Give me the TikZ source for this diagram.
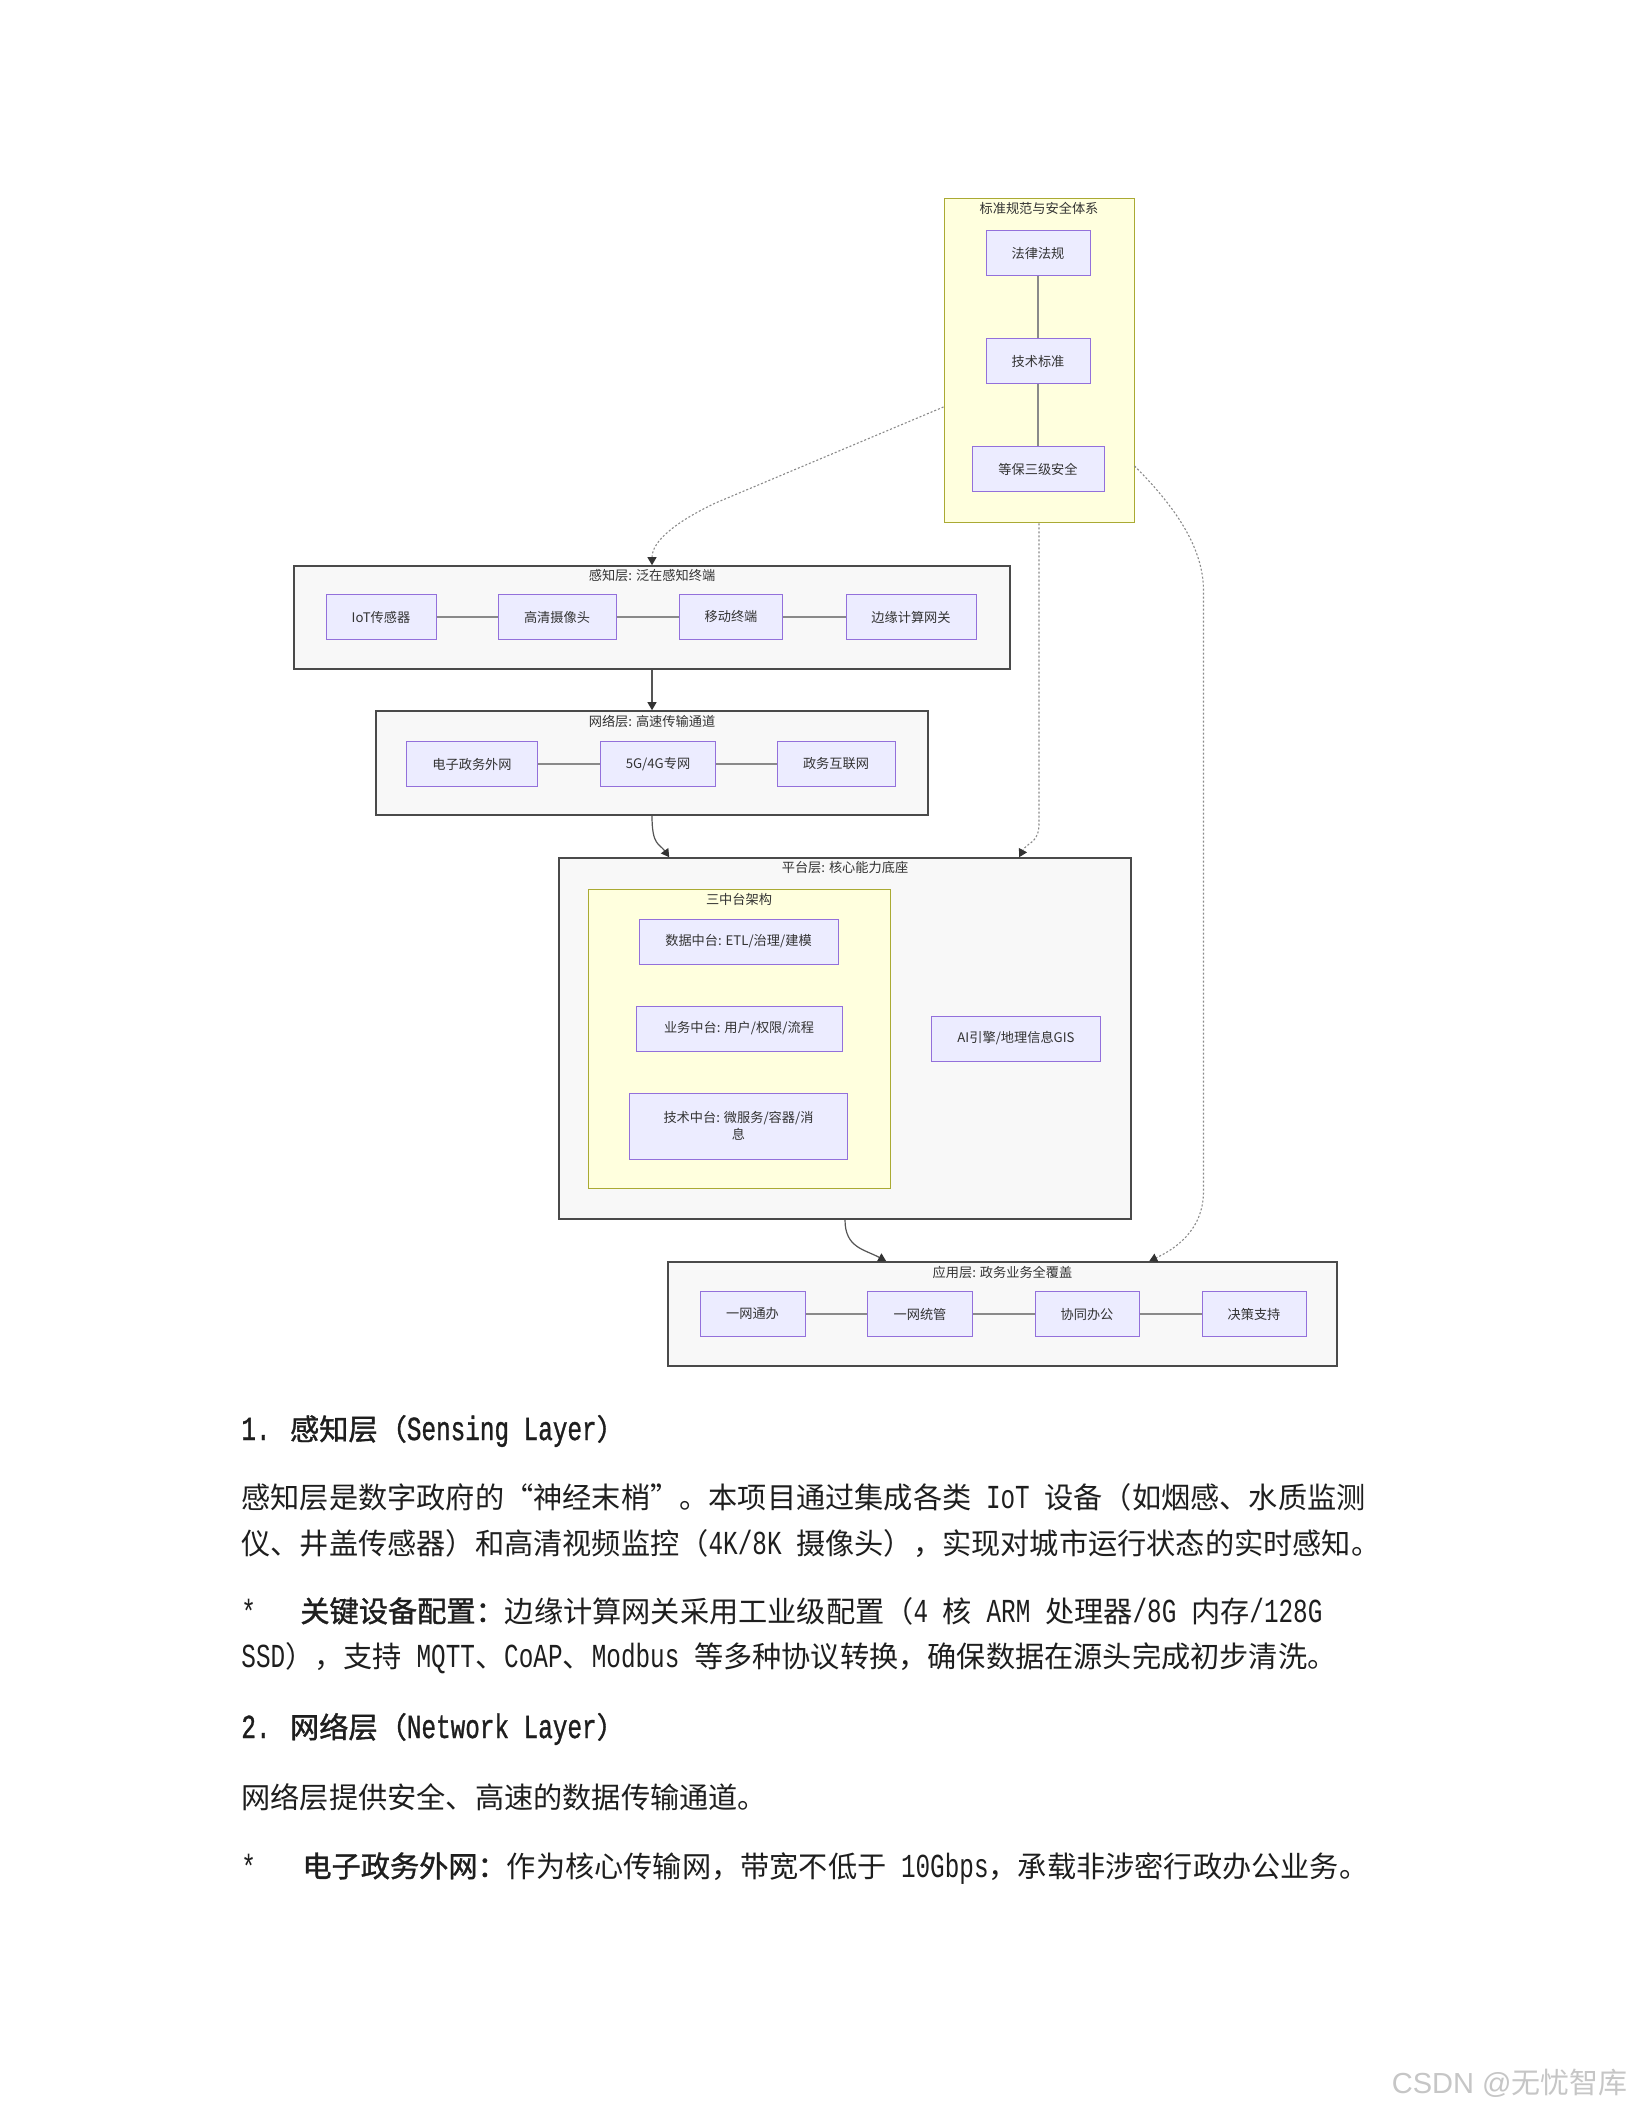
\documentclass[tikz,border=0pt]{standalone}
\usepackage{fontspec}
\usepackage{graphicx}
\setmainfont{Noto Sans CJK SC}
\newfontfamily\hdf{Noto Sans CJK SC}[RawFeature={embolden=1.2}]
\newfontfamily\ltf{Liberation Mono}[Scale=1.15]
\newfontfamily\lthf{Liberation Mono}[Scale=1.15,RawFeature={embolden=1.2}]
\newfontfamily\wmf{Liberation Sans}
\usetikzlibrary{arrows.meta,calc}
\definecolor{nodefill}{HTML}{ECECFF}
\definecolor{nodedraw}{HTML}{9370DB}
\definecolor{yelfill}{HTML}{FFFFDE}
\definecolor{yeldraw}{HTML}{AAAA33}
\definecolor{layfill}{HTML}{F8F8F8}
\definecolor{laydraw}{HTML}{4A4A4A}
\definecolor{labc}{HTML}{333333}
\definecolor{linec}{HTML}{8A8A8A}
\definecolor{arrc}{HTML}{555555}
\definecolor{tipc}{HTML}{333333}
\definecolor{bodyc}{HTML}{1E1E1E}
\definecolor{wmc}{HTML}{C6C6C6}
\newcommand\lt[1]{\scalebox{0.7246}[1]{\ltf #1}}
\newcommand\lth[1]{\scalebox{0.7246}[1]{\lthf #1}}
\newcommand\hs{\hspace{0.5em}}
\newcommand\myLQ{\makebox[1em][r]{“}}
\newcommand\myRQ{\makebox[1em][l]{”}}
\begin{document}
\begin{tikzpicture}[x=0.5pt,y=-0.5pt,
  wh/.style 2 args={minimum width={#1*0.5pt},minimum height={#2*0.5pt}},
  lbl/.style={font=\fontsize{6.6pt}{8.4pt}\selectfont, text=labc},
  nd/.style={lbl, draw=nodedraw, fill=nodefill, line width=0.5pt, inner sep=0pt, align=center},
  lay/.style={draw=laydraw, fill=layfill, line width=0.8pt, inner sep=0pt},
  yel/.style={draw=yeldraw, fill=yelfill, line width=0.5pt, inner sep=0pt},
  ttl/.style={lbl, inner sep=0pt},
  ln/.style={draw=linec, line width=0.6pt},
  arr/.style={draw=arrc, line width=0.6pt, -{Triangle[length=4pt,width=4.5pt,color=tipc]}},
  dotl/.style={draw=linec, line width=0.55pt, dash pattern=on 1pt off 1pt, -{Triangle[length=4pt,width=4.5pt,color=tipc]}},
  body/.style={anchor=base west, inner sep=0pt, text=bodyc, font=\fontsize{14.6pt}{18pt}\selectfont},
  head/.style={body, font=\fontsize{14.6pt}{18pt}\selectfont\hdf},
]
\useasboundingbox (0,0) rectangle (1632,2112);
\fill[white] (0,0) rectangle (1632,2112);

% ---------- containers ----------
\node[yel, wh={190}{324}] (sec) at (1039,361) {};
\node[ttl] (sect) at (1039,208) {标准规范与安全体系};

\node[lay, wh={716}{103}] (sense) at (652,617.5) {};
\node[ttl] (senset) at (652,576) {感知层: 泛在感知终端};

\node[lay, wh={552}{104}] (net) at (652,763) {};
\node[ttl] (nett) at (652,721) {网络层: 高速传输通道};

\node[lay, wh={572}{361}] (plat) at (845,1038.5) {};
\node[ttl] (platt) at (845,867) {平台层: 核心能力底座};
\node[yel, wh={302}{299}] (tri) at (739,1038.5) {};
\node[ttl] (trit) at (739,899) {三中台架构};

\node[lay, wh={669}{104}] (app) at (1002.5,1314) {};
\node[ttl] (appt) at (1002.5,1272) {应用层: 政务业务全覆盖};

% ---------- nodes ----------
\node[nd, wh={104}{45}] (law) at (1038,253) {法律法规};
\node[nd, wh={104}{45}] (std) at (1038,361) {技术标准};
\node[nd, wh={132}{45}] (mlps) at (1038,469) {等保三级安全};

\node[nd, wh={110}{45}] (iot) at (381,617) {IoT传感器};
\node[nd, wh={118}{45}] (cam) at (557,617) {高清摄像头};
\node[nd, wh={103}{45}] (mob) at (731,617) {移动终端};
\node[nd, wh={130}{45}] (edge) at (911,617) {边缘计算网关};

\node[nd, wh={131}{45}] (ext) at (472,764) {电子政务外网};
\node[nd, wh={115}{45}] (g5) at (658,764) {5G/4G专网};
\node[nd, wh={118}{45}] (gi) at (836,764) {政务互联网};

\node[nd, wh={199}{45}] (data) at (738.5,941.5) {数据中台: ETL/治理/建模};
\node[nd, wh={206}{45}] (biz) at (739,1028.5) {业务中台: 用户/权限/流程};
\node[nd, wh={218}{66}] (techm) at (738.5,1126) {技术中台: 微服务/容器/消\\息};
\node[nd, wh={169}{45}] (ai) at (1016,1038.5) {AI引擎/地理信息GIS};

\node[nd, wh={105}{45}] (a1) at (752.5,1314) {一网通办};
\node[nd, wh={105}{45}] (a2) at (920,1314) {一网统管};
\node[nd, wh={104}{45}] (a3) at (1087,1314) {协同办公};
\node[nd, wh={104}{45}] (a4) at (1254,1314) {决策支持};

% ---------- links inside groups ----------
\draw[ln] (law) -- (std);
\draw[ln] (std) -- (mlps);
\draw[ln] (iot) -- (cam);
\draw[ln] (cam) -- (mob);
\draw[ln] (mob) -- (edge);
\draw[ln] (ext) -- (g5);
\draw[ln] (g5) -- (gi);
\draw[ln] (a1) -- (a2);
\draw[ln] (a2) -- (a3);
\draw[ln] (a3) -- (a4);

% ---------- links between layers ----------
\draw[arr] (sense.south) -- (net.north);
\draw[arr] (net.south) .. controls +(0,30) and +(-10,-14) .. ($(plat.north west)+(111,0)$);
\draw[arr] (plat.south) .. controls +(0,28) and +(-22,-12) .. ($(app.north west)+(219,0)$);

\draw[dotl] ($(sec.west)+(0,46)$) -- ++(-228,96) .. controls +(-40,19) and +(0,-24) .. (sense.north);
\draw[dotl] (sec.south) -- ++(0,300) .. controls +(0,20) and +(8,-15) .. ($(plat.north west)+(461,0)$);
\draw[dotl] ($(sec.east)+(0,105)$) .. controls +(45,45) and +(0,-40) .. ++(69,125) -- ++(0,600) .. controls +(0,40) and +(25,-12) .. ($(app.north west)+(482,0)$);

% ---------- body text ----------
\node[head] (h1) at (241,1440) {\lth{1. }感知层（\lth{Sensing Layer}）};
\node[body] (p1a) at (241,1508) {感知层是数字政府的\myLQ 神经末梢\myRQ 。本项目通过集成各类\lt{ IoT }设备（如烟感、水质监测};
\node[body] (p1b) at (241,1554) {仪、井盖传感器）和高清视频监控（\lt{4K/8K }摄像头），实现对城市运行状态的实时感知。};
\node[body, anchor=west] (s1) at (241,1611) {\lt{*}};
\node[body] (b1a) at (300,1622) {{\hdf 关键设备配置：}边缘计算网关采用工业级配置（\lt{4 }核\lt{ ARM }处理器\lt{/8G }内存\lt{/128G}};
\node[body] (b1b) at (241,1667) {\lt{SSD}），支持\lt{ MQTT}、\lt{CoAP}、\lt{Modbus }等多种协议转换，确保数据在源头完成初步清洗。};
\node[head] (h2) at (241,1738) {\lth{2. }网络层（\lth{Network Layer}）};
\node[body] (p2) at (241,1808) {网络层提供安全、高速的数据传输通道。};
\node[body, anchor=west] (s2) at (241,1866) {\lt{*}};
\node[body] (b2) at (302,1877) {{\hdf 电子政务外网：}作为核心传输网，带宽不低于\lt{ 10Gbps}，承载非涉密行政办公业务。};

% ---------- watermark ----------
\node[anchor=east, inner sep=0pt, text=wmc, font=\fontsize{14.5pt}{17pt}\selectfont] (wm) at (1628,2083) {{\wmf CSDN @}无忧智库};
\end{tikzpicture}
\end{document}
